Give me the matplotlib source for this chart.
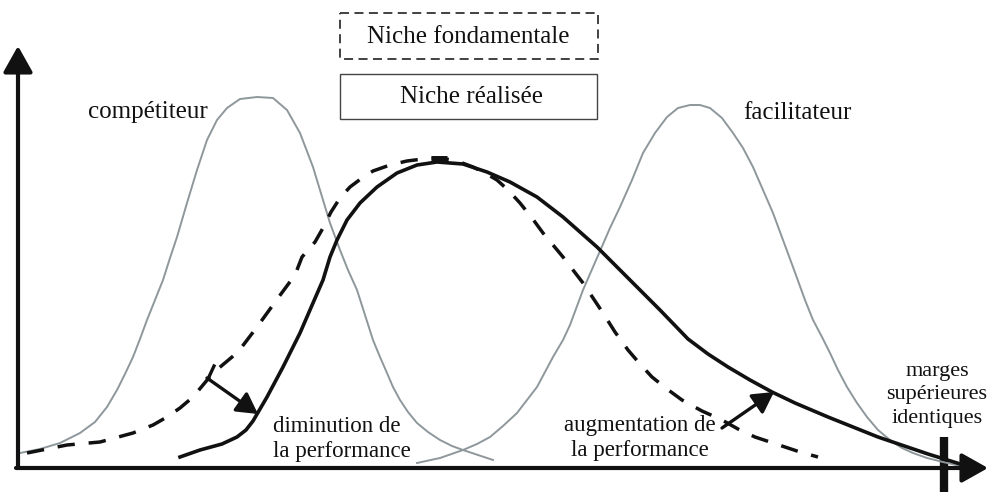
import matplotlib
matplotlib.use("Agg")
import matplotlib.pyplot as plt
from matplotlib.patches import Rectangle

comp_x = [20, 40, 60, 80, 95, 107, 117, 125, 133, 140, 147, 155, 163, 170, 177, 187, 197,
          207, 217, 227, 240, 257, 273, 287, 300, 313, 323, 330, 340, 348, 357, 365, 373,
          380, 387, 393, 400, 408, 417, 428, 440, 452, 463, 478, 493]
comp_y = [453, 449, 443, 433, 422, 407, 390, 374, 357, 339, 320, 300, 280, 258, 237, 203, 170,
          140, 120, 108, 99, 97, 98, 110, 133, 167, 200, 223, 250, 270, 290, 315, 340,
          357, 373, 387, 400, 412, 423, 432, 440, 446, 450, 455, 460]

faci_x = [417, 440, 463, 477, 490, 503, 517, 527, 537, 545, 553, 563, 570, 583, 600, 610,
          620, 632, 643, 655, 667, 678, 690, 700, 710, 722, 733, 743, 753, 763, 773, 783,
          793, 805, 813, 822, 830, 838, 847, 857, 867, 878, 890, 902, 913, 927, 943, 970]
faci_y = [463, 458, 450, 444, 437, 426, 413, 400, 387, 372, 357, 340, 325, 290, 251, 228,
          207, 180, 153, 133, 117, 108, 105, 105, 108, 118, 133, 148, 167, 190, 213, 240,
          267, 300, 320, 337, 353, 370, 387, 403, 417, 430, 440, 448, 453, 458, 462, 468]

real_x = [180, 200, 222, 237, 246, 253, 260, 267, 283, 300, 313, 323, 330, 337, 347, 360,
          377, 397, 417, 437, 463, 487, 510, 537, 563, 597, 630, 660, 688, 708, 728, 750,
          772, 795, 828, 878, 928, 970]
real_y = [457, 450, 444, 437, 430, 421, 409, 397, 367, 333, 303, 280, 257, 240, 220, 203,
          187, 173, 165, 162, 164, 172, 182, 197, 217, 247, 280, 310, 339, 354, 367, 380,
          392, 403, 417, 437, 454, 467]

fond_x = [27, 67, 100, 133, 153, 167, 180, 193, 203, 213, 238, 257, 278, 295, 302, 315,
          323, 331, 340, 350, 362, 373, 390, 407, 423, 440, 457, 473, 485, 497, 508, 520,
          532, 543, 553, 563, 573, 583, 593, 603, 615, 628, 640, 652, 667, 682, 702, 722,
          738, 755, 770, 785, 800, 818]
fond_y = [453, 445, 442, 433, 425, 417, 408, 397, 385, 373, 352, 327, 298, 275, 257, 242,
          228, 212, 198, 187, 178, 171, 165, 161, 159, 158, 161, 167, 173, 180, 190, 203,
          218, 233, 245, 257, 270, 283, 298, 313, 332, 350, 364, 377, 389, 400, 411, 420,
          429, 437, 442, 447, 452, 457]

legend_labels = ["Niche fondamentale", "Niche réalisée"]
species_labels = ["compétiteur", "facilitateur"]
arrow_labels = ["diminution de\nla performance", "augmentation de\nla performance"]
margin_label = "marges\nsupérieures\nidentiques"

grey = "#8e979b"
ink = "#111111"
serif = ["Liberation Serif", "DejaVu Serif"]

fig = plt.figure(figsize=(9.95, 4.92), dpi=100)
ax = fig.add_axes([0, 0, 1, 1])
ax.set_xlim(0, 995)
ax.set_ylim(492, 0)
ax.axis("off")

# axes with arrows
ax.annotate("", xy=(18, 46), xytext=(18, 468),
            arrowprops=dict(arrowstyle="-|>,head_length=0.8,head_width=0.45",
                            lw=3, color=ink, mutation_scale=20, shrinkA=0, shrinkB=0))
ax.annotate("", xy=(988, 468), xytext=(16, 468),
            arrowprops=dict(arrowstyle="-|>,head_length=0.8,head_width=0.45",
                            lw=3, color=ink, mutation_scale=20, shrinkA=0, shrinkB=0))
ax.plot([943.5, 943.5], [437, 492], color=ink, lw=6, solid_capstyle="butt")

# species curves
ax.plot(comp_x, comp_y, color=grey, lw=1.4)
ax.plot(faci_x, faci_y, color=grey, lw=1.4)

# niches
ax.plot(fond_x, fond_y, color=ink, lw=2.5, ls=(0, (5, 4)))
ax.plot([431, 447], [159, 159], color=ink, lw=5, solid_capstyle="butt")
ax.plot(real_x, real_y, color=ink, lw=2.6)

# shift arrows
ax.plot([214, 208], [366, 379], color=ink, lw=2.4)
ax.annotate("", xy=(258, 414), xytext=(207, 378),
            arrowprops=dict(arrowstyle="-|>,head_length=0.9,head_width=0.5",
                            lw=2.4, color=ink, mutation_scale=14, shrinkA=0, shrinkB=0))
ax.annotate("", xy=(774, 392), xytext=(722, 428),
            arrowprops=dict(arrowstyle="-|>,head_length=0.9,head_width=0.5",
                            lw=2.4, color=ink, mutation_scale=14, shrinkA=0, shrinkB=0))

# legend boxes
ax.add_patch(Rectangle((340, 13), 258, 46, fill=False, ec="#333333", lw=1.3, ls=(0, (5, 3))))
ax.add_patch(Rectangle((340, 74), 257, 45, fill=False, ec="#444444", lw=1.0))
ax.text(468, 37, legend_labels[0], ha="center", va="center", fontsize=18,
        family=serif, color=ink)
ax.text(472, 97, legend_labels[1], ha="center", va="center", fontsize=18,
        family=serif, color=ink)

# labels
ax.text(148, 112, species_labels[0], ha="center", va="center", fontsize=18,
        family=serif, color=ink)
ax.text(797, 113, species_labels[1], ha="center", va="center", fontsize=18,
        family=serif, color=ink)
ax.text(273, 439, arrow_labels[0], ha="left", va="center", fontsize=16.5,
        family=serif, color=ink, linespacing=1.25)
ax.text(640, 438, arrow_labels[1], ha="center", va="center", fontsize=16.5,
        family=serif, color=ink, linespacing=1.25)
ax.text(937, 395, margin_label, ha="center", va="center", fontsize=16,
        family=serif, color=ink, linespacing=1.3)

fig.savefig("out.png", dpi=100)
